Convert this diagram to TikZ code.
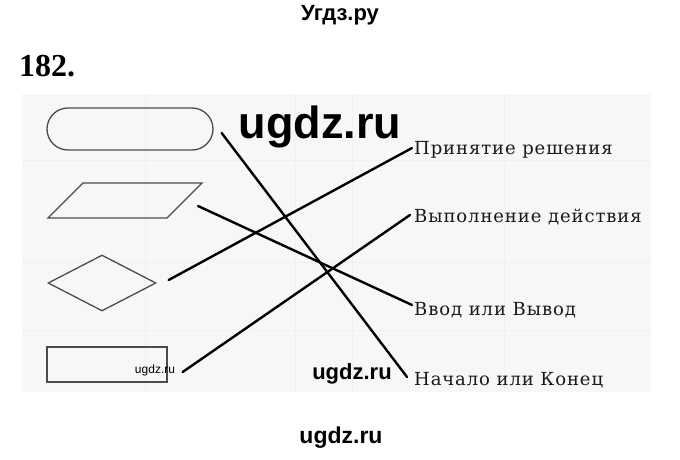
\documentclass[tikz,border=0pt]{standalone}
\usepackage{fontspec}
\setmainfont{Liberation Serif}
\newfontfamily\labelfont[LetterSpace=5]{DejaVu Serif}
\newfontfamily\wmfont{Liberation Sans}
\usetikzlibrary{shapes.geometric}
\usetikzlibrary{shapes.misc}
\newcommand\fsz[1]{\fontsize{#1}{#1}\selectfont}
\tikzstyle{blk}=[draw=black!70,line width=1.3pt,inner sep=0pt]
\tikzstyle{link}=[line width=2.4pt,line cap=round]
\tikzstyle{lbl}=[anchor=base west,inner sep=0pt,text=black!90,font=\labelfont\fsz{18}]
\tikzstyle{wm}=[anchor=base,inner sep=0pt,font=\wmfont\bfseries]
\tikzstyle{grid}=[black!6,line width=.6pt]

\begin{document}
\begin{tikzpicture}[x=1pt,y=-1pt]
\useasboundingbox (0,0) rectangle (680,460);
% page of the book
\fill[black!3] (22,94) rectangle (651,392);
\foreach \gx in {145,295,352,504} \draw[grid] (\gx,94) -- (\gx,392);
\foreach \gy in {160,262,330} \draw[grid] (22,\gy) -- (651,\gy);

\node[wm] (site) at (340,21) {\fsz{22}Угдз.ру};
\node[anchor=base west,inner sep=0pt,font=\bfseries\fsz{32}] (num) at (19,77) {182.};

% blocks
\node[blk,rounded rectangle,minimum width=166pt,minimum height=42pt] (term) at (130,129) {};
\coordinate (io) at (125,200.5);
\draw[blk] ([shift={(-42,-17.5)}]io) -- ([shift={(77,-17.5)}]io)
  -- ([shift={(42,17.5)}]io) -- ([shift={(-77,17.5)}]io) -- cycle;
\node[blk,diamond,minimum width=108pt,minimum height=56pt] (dec) at (102,283) {};
\node[blk,rectangle,minimum width=120pt,minimum height=35pt] (proc) at (107,364.5) {};

% names
\node[lbl] (take) at (414,154) {Принятие решения};
\node[lbl] (act)  at (414,222) {Выполнение действия};
\node[lbl] (inout) at (414,315) {Ввод или Вывод};
\node[lbl] (ends) at (414,385) {Начало или Конец};

\draw[link] ([shift={(8,4)}]term.east) -- ([shift={(-7,-8)}]ends.base west);
\draw[link] ([shift={(73,5.5)}]io) -- ([shift={(-2,-10)}]inout.base west);
\draw[link] ([shift={(12,-3)}]dec.east) -- ([shift={(-2,-6)}]take.base west);
\draw[link] ([shift={(15,7.5)}]proc.east) -- ([shift={(-4,-7)}]act.base west);

\node[wm] (mark1) at (320,138) {\fsz{45}ugdz.ru};
\node[wm] (mark2) at (352,379) {\fsz{22}ugdz.ru};
\node[wm,font=\wmfont] (mark3) at (155,373) {\fsz{12}ugdz.ru};
\node[wm] (mark4) at (341,443) {\fsz{23}ugdz.ru};
\end{tikzpicture}
\end{document}
